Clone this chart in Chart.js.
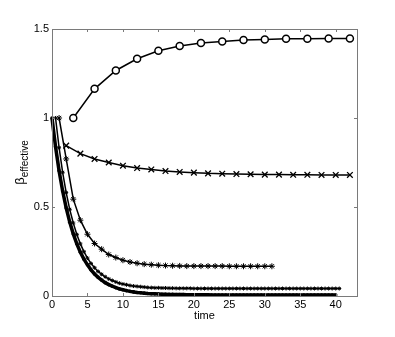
<!DOCTYPE html>
<html>
<head>
<meta charset="utf-8">
<script src="https://cdn.jsdelivr.net/npm/chart.js@4"></script>
<style>
  html, body { margin: 0; padding: 0; background: #fff; }
  #wrap { width: 395px; height: 337px; }
</style>
</head>
<body>
<div id="wrap"><canvas id="chart" width="395" height="337"></canvas></div>
<script>
// circles (o)
const circleTime = [3, 6, 9, 12, 15, 18, 21, 24, 27, 30, 33, 36, 39, 42];
const circleVals = [1.0, 1.164, 1.267, 1.333, 1.378, 1.404, 1.421, 1.430, 1.438, 1.441, 1.445, 1.445, 1.447, 1.447];

// crosses (x)
const crossTime = [2, 4, 6, 8, 10, 12, 14, 16, 18, 20, 22, 24, 26, 28, 30, 32, 34, 36, 38, 40, 42];
const crossVals = [0.845, 0.800, 0.770, 0.750, 0.732, 0.719, 0.711, 0.702, 0.697, 0.693, 0.689, 0.687, 0.685,
  0.684, 0.682, 0.682, 0.681, 0.681, 0.680, 0.680, 0.680];

// big stars (*), t = 1..31
const starTime = [1, 2, 3, 4, 5, 6, 7, 8, 9, 10, 11, 12, 13, 14, 15, 16, 17, 18, 19, 20,
  21, 22, 23, 24, 25, 26, 27, 28, 29, 30, 31];
const starVals = [1.0, 0.77, 0.544, 0.426, 0.347, 0.295, 0.263, 0.233, 0.216, 0.201, 0.191, 0.184, 0.179,
  0.176, 0.173, 0.171, 0.170, 0.169, 0.168, 0.168, 0.168, 0.168, 0.168, 0.168, 0.167, 0.167, 0.167,
  0.167, 0.167, 0.167, 0.167];

// small stars, t = 0.5 .. 40.5 every 0.5
const smallStart = 0.5;
const smallVals = [1.0, 0.833, 0.695, 0.581, 0.487, 0.410, 0.346, 0.293, 0.249, 0.213, 0.183, 0.159,
  0.138, 0.122, 0.108, 0.096, 0.087, 0.079, 0.072, 0.067, 0.063, 0.059, 0.056, 0.054, 0.052, 0.050,
  0.048, 0.047, 0.046, 0.046, 0.045, 0.045, 0.044, 0.044, 0.043, 0.043, 0.043, 0.043, 0.043, 0.042,
  0.042, 0.042, 0.042, 0.042, 0.042, 0.042, 0.042, 0.042, 0.042, 0.042, 0.042, 0.042, 0.042, 0.042,
  0.042, 0.042, 0.042, 0.042, 0.042, 0.042, 0.042, 0.042, 0.042, 0.042, 0.042, 0.042, 0.042, 0.042,
  0.042, 0.042, 0.042, 0.042, 0.042, 0.042, 0.042, 0.042, 0.042, 0.042, 0.042, 0.042, 0.042];

// thick dotted curve, t = 0 .. 40 every 0.5
const thickStart = 0;
const thickVals = [1.0, 0.838, 0.703, 0.590, 0.495, 0.415, 0.349, 0.293, 0.246, 0.207, 0.175, 0.147,
  0.124, 0.105, 0.089, 0.075, 0.064, 0.055, 0.047, 0.040, 0.035, 0.030, 0.026, 0.023, 0.020, 0.018,
  0.016, 0.014, 0.013, 0.012, 0.011, 0.010, 0.010, 0.009, 0.009, 0.008, 0.008, 0.008, 0.007, 0.007,
  0.007, 0.007, 0.007, 0.007, 0.007, 0.006, 0.006, 0.006, 0.006, 0.006, 0.006, 0.006, 0.006, 0.006,
  0.006, 0.006, 0.006, 0.006, 0.006, 0.006, 0.006, 0.006, 0.006, 0.006, 0.006, 0.006, 0.006, 0.006,
  0.006, 0.006, 0.006, 0.006, 0.006, 0.006, 0.006, 0.006, 0.006, 0.006, 0.006, 0.006, 0.006];

const xTicks = [0, 5, 10, 15, 20, 25, 30, 35, 40];
const yTicks = [0, 0.5, 1, 1.5];

const FONT = "'Liberation Sans', Arial, Helvetica, sans-serif";

const pts = (xs, ys) => ys.map((y, i) => ({ x: xs[i], y }));
const grid = (start, ys) => ys.map((y, i) => ({ x: start + i * 0.5, y }));

// box + inward ticks, like the original axes
const boxPlugin = {
  id: "box",
  afterDatasetsDraw(chart) {
    const { ctx, chartArea: a, scales: { x, y } } = chart;
    ctx.save();
    ctx.strokeStyle = "#7a7a7a";
    ctx.lineWidth = 1;
    ctx.strokeRect(Math.round(a.left) + 0.5, Math.round(a.top) + 0.5,
      Math.round(a.right - a.left), Math.round(a.bottom - a.top));
    ctx.beginPath();
    xTicks.forEach(v => {
      const px = Math.round(x.getPixelForValue(v)) + 0.5;
      ctx.moveTo(px, a.bottom); ctx.lineTo(px, a.bottom - 3);
      ctx.moveTo(px, a.top); ctx.lineTo(px, a.top + 3);
    });
    yTicks.forEach(v => {
      const py = Math.round(y.getPixelForValue(v)) + 0.5;
      ctx.moveTo(a.left, py); ctx.lineTo(a.left + 3, py);
      ctx.moveTo(a.right, py); ctx.lineTo(a.right - 3, py);
    });
    ctx.stroke();

    // y label: beta with subscript "effective"
    const cy = (a.top + a.bottom) / 2;
    ctx.fillStyle = "#000";
    ctx.textBaseline = "alphabetic";
    ctx.font = "13px " + FONT;
    const wb = ctx.measureText("\u03B2").width;
    ctx.font = "10px " + FONT;
    const we = ctx.measureText("effective").width;
    ctx.translate(24, cy + (wb + we) / 2);
    ctx.rotate(-Math.PI / 2);
    ctx.font = "13px " + FONT;
    ctx.fillText("\u03B2", 0, 0);
    ctx.font = "10px " + FONT;
    ctx.fillText("effective", wb, 4);
    ctx.restore();
  }
};

new Chart(document.getElementById("chart"), {
  type: "line",
  data: {
    datasets: [
      {
        data: pts(circleTime, circleVals),
        borderColor: "#000", borderWidth: 1.5,
        pointStyle: "circle", pointRadius: 3.5, pointBorderWidth: 1.5,
        pointBackgroundColor: "#fff", pointBorderColor: "#000"
      },
      {
        data: pts(crossTime, crossVals),
        borderColor: "#000", borderWidth: 1.5,
        pointStyle: "crossRot", pointRadius: 4, pointBorderWidth: 1.3,
        pointBorderColor: "#000"
      },
      {
        data: pts(starTime, starVals),
        borderColor: "#000", borderWidth: 1.5,
        pointStyle: "star", pointRadius: 3, pointBorderWidth: 1,
        pointBorderColor: "#000"
      },
      {
        data: grid(smallStart, smallVals),
        borderColor: "#000", borderWidth: 1.5,
        pointStyle: "star", pointRadius: 2, pointBorderWidth: 1,
        pointBorderColor: "#000"
      },
      {
        data: grid(thickStart, thickVals),
        borderColor: "#000", borderWidth: 3.5,
        pointStyle: "circle", pointRadius: 1.8, pointBorderWidth: 0,
        pointBackgroundColor: "#000"
      }
    ]
  },
  options: {
    responsive: false,
    animation: false,
    clip: false,
    layout: { padding: { left: 0, top: 29, right: 38, bottom: 0 } },
    plugins: { legend: { display: false }, tooltip: { enabled: false } },
    elements: { line: { tension: 0 } },
    scales: {
      x: {
        type: "linear", min: 0, max: 43,
        afterBuildTicks: s => { s.ticks = xTicks.map(v => ({ value: v })); },
        afterFit: s => { s.height = 41; },
        grid: { display: false, drawTicks: false },
        border: { display: false },
        ticks: { padding: 2, color: "#000", font: { family: FONT, size: 11 }, maxRotation: 0,
          callback: v => String(v) },
        title: { display: true, text: "time", color: "#000", font: { family: FONT, size: 11 }, padding: { top: 0, bottom: 14 } }
      },
      y: {
        type: "linear", min: 0, max: 1.5,
        afterBuildTicks: s => { s.ticks = yTicks.map(v => ({ value: v })); },
        afterFit: s => { s.width = 52; },
        grid: { display: false, drawTicks: false },
        border: { display: false },
        ticks: { padding: 3, color: "#000", font: { family: FONT, size: 11 }, callback: v => String(v) }
      }
    }
  },
  plugins: [boxPlugin]
});
</script>
</body>
</html>
